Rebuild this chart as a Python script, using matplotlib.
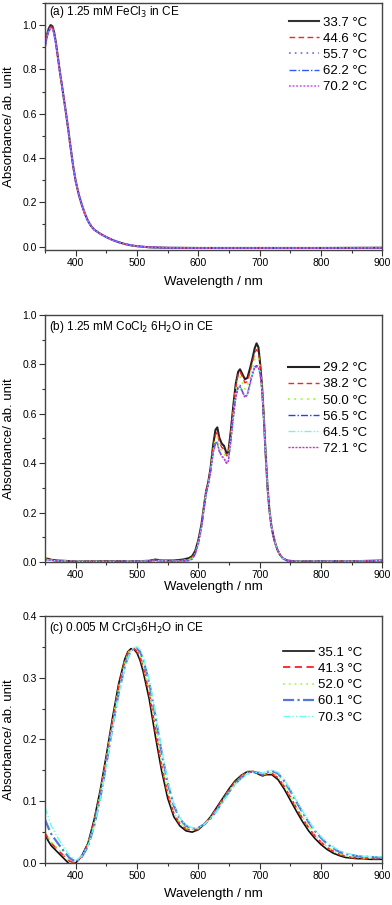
import matplotlib
matplotlib.use("Agg")
import matplotlib.pyplot as plt
from matplotlib.ticker import MultipleLocator

plt.rcParams['font.family'] = ['Liberation Sans', 'DejaVu Sans']

# ---- (a) FeCl3 ----
wl_a = [350, 353, 356, 359, 362, 365, 368, 371, 374, 377, 380, 384, 388, 392, 396,
        400, 405, 410, 415, 420, 425, 430, 440, 450, 460, 470, 480, 490, 500, 520,
        550, 600, 700, 800, 900]
tail_a = [0.68, 0.605, 0.525, 0.44, 0.36, 0.295, 0.235, 0.188, 0.148, 0.116, 0.093, 0.077,
          0.058, 0.043, 0.03, 0.02, 0.012, 0.006, 0.002, -0.003, -0.005, -0.006, -0.006,
          -0.006, -0.005]
fe_337 = [0.91, 0.955, 0.985, 1.0, 0.995, 0.965, 0.915, 0.853, 0.792, 0.737] + tail_a
fe_446 = [0.905, 0.95, 0.978, 0.99, 0.987, 0.96, 0.912, 0.851, 0.791, 0.736] + tail_a
fe_557 = [0.9, 0.945, 0.972, 0.985, 0.982, 0.957, 0.91, 0.85, 0.79, 0.736] + tail_a
fe_622 = [0.9, 0.945, 0.972, 0.984, 0.981, 0.956, 0.91, 0.85, 0.79, 0.736] + tail_a
fe_702 = [0.902, 0.947, 0.974, 0.986, 0.983, 0.957, 0.91, 0.85, 0.79, 0.736] + tail_a
labels_a = ['33.7 °C', '44.6 °C', '55.7 °C', '62.2 °C', '70.2 °C']

# ---- (b) CoCl2 6H2O ----
wl_b = [350, 355, 360, 370, 380, 400, 450, 500, 520, 530, 540, 560, 575, 585, 590,
        595, 600, 605, 610, 613, 616, 620, 624, 628, 631, 634, 638, 642, 646, 649,
        653, 657, 661, 665, 668, 672, 676, 680, 684, 688, 692, 695, 698, 701, 704,
        707, 710, 713, 716, 719, 722, 725, 729, 733, 738, 745, 760, 800, 850, 900]
co_292 = [0.014, 0.013, 0.009, 0.006, 0.005, 0.002, 0.003, 0.003, 0.005, 0.01, 0.006, 0.006, 0.01, 0.016, 0.024,
          0.045, 0.088, 0.15, 0.24, 0.29, 0.32, 0.38, 0.47, 0.535, 0.545, 0.505, 0.48, 0.47, 0.44, 0.445,
          0.53, 0.63, 0.72, 0.77, 0.78, 0.76, 0.74, 0.745, 0.78, 0.82, 0.865, 0.885, 0.87, 0.80, 0.71,
          0.58, 0.43, 0.30, 0.21, 0.15, 0.11, 0.08, 0.05, 0.03, 0.015, 0.006, 0.002, 0.003, 0.003, 0.006]
co_382 = [0.012, 0.011, 0.008, 0.005, 0.004, 0.002, 0.003, 0.003, 0.004, 0.008, 0.005, 0.005, 0.008, 0.012, 0.02,
          0.04, 0.083, 0.146, 0.236, 0.287, 0.317, 0.375, 0.46, 0.515, 0.525, 0.49, 0.465, 0.455, 0.43, 0.435,
          0.515, 0.615, 0.705, 0.76, 0.77, 0.75, 0.725, 0.73, 0.765, 0.805, 0.845, 0.86, 0.85, 0.79, 0.705,
          0.58, 0.43, 0.30, 0.21, 0.15, 0.11, 0.08, 0.05, 0.03, 0.015, 0.006, 0.002, 0.003, 0.003, 0.006]
co_500 = [0.011, 0.01, 0.007, 0.005, 0.004, 0.002, 0.002, 0.003, 0.004, 0.007, 0.005, 0.004, 0.006, 0.009, 0.016,
          0.036, 0.078, 0.142, 0.232, 0.284, 0.314, 0.37, 0.45, 0.495, 0.505, 0.47, 0.45, 0.44, 0.42, 0.425,
          0.50, 0.60, 0.69, 0.745, 0.75, 0.725, 0.70, 0.71, 0.745, 0.785, 0.82, 0.83, 0.825, 0.775, 0.70,
          0.575, 0.43, 0.30, 0.21, 0.15, 0.11, 0.08, 0.05, 0.03, 0.015, 0.006, 0.002, 0.003, 0.003, 0.006]
co_565 = [0.01, 0.009, 0.007, 0.004, 0.003, 0.002, 0.002, 0.003, 0.004, 0.006, 0.004, 0.003, 0.004, 0.006, 0.012,
          0.032, 0.074, 0.138, 0.228, 0.28, 0.31, 0.365, 0.44, 0.48, 0.485, 0.45, 0.43, 0.42, 0.40, 0.41,
          0.49, 0.585, 0.665, 0.71, 0.715, 0.69, 0.67, 0.68, 0.72, 0.76, 0.79, 0.795, 0.79, 0.76, 0.69,
          0.57, 0.425, 0.30, 0.21, 0.15, 0.11, 0.08, 0.05, 0.03, 0.015, 0.006, 0.002, 0.003, 0.003, 0.006]
co_645 = [0.01, 0.009, 0.007, 0.004, 0.003, 0.002, 0.002, 0.003, 0.004, 0.006, 0.004, 0.003, 0.004, 0.006, 0.012,
          0.032, 0.074, 0.138, 0.228, 0.28, 0.31, 0.365, 0.44, 0.478, 0.485, 0.452, 0.43, 0.42, 0.402, 0.41,
          0.49, 0.583, 0.663, 0.705, 0.71, 0.688, 0.668, 0.678, 0.718, 0.758, 0.788, 0.79, 0.787, 0.758, 0.69,
          0.57, 0.425, 0.30, 0.21, 0.15, 0.11, 0.08, 0.05, 0.03, 0.015, 0.006, 0.002, 0.003, 0.003, 0.006]
co_721 = [0.01, 0.009, 0.007, 0.004, 0.003, 0.002, 0.002, 0.003, 0.004, 0.006, 0.004, 0.003, 0.004, 0.006, 0.012,
          0.032, 0.074, 0.138, 0.228, 0.28, 0.31, 0.365, 0.44, 0.478, 0.48, 0.45, 0.428, 0.418, 0.40, 0.408,
          0.488, 0.582, 0.662, 0.706, 0.71, 0.686, 0.666, 0.676, 0.716, 0.756, 0.786, 0.79, 0.786, 0.758, 0.69,
          0.57, 0.425, 0.30, 0.21, 0.15, 0.11, 0.08, 0.05, 0.03, 0.015, 0.006, 0.002, 0.003, 0.003, 0.006]
labels_b = ['29.2 °C', '38.2 °C', '50.0 °C', '56.5 °C', '64.5 °C', '72.1 °C']

# ---- (c) CrCl3 6H2O ----
wl_c = [350, 355, 360, 370, 380, 390, 400, 410, 420, 430, 440, 450, 460, 470, 480,
        485, 490, 495, 500, 505, 510, 520, 530, 540, 550, 560, 570, 580, 590, 600,
        610, 620, 630, 640, 650, 660, 670, 680, 690, 700, 705, 710, 720, 730, 740,
        750, 760, 770, 780, 790, 800, 810, 820, 830, 840, 850, 860, 870, 880, 890, 900]
cr_351 = [0.045, 0.036, 0.028, 0.018, 0.008, -0.002, 0.0, 0.012, 0.032, 0.07, 0.118, 0.175, 0.235, 0.29, 0.33,
          0.342, 0.347, 0.346, 0.34, 0.328, 0.31, 0.265, 0.205, 0.15, 0.105, 0.075, 0.06, 0.052, 0.05, 0.054,
          0.063, 0.075, 0.09, 0.105, 0.12, 0.133, 0.142, 0.148, 0.148, 0.143, 0.141, 0.143, 0.143, 0.135, 0.12,
          0.102, 0.084, 0.067, 0.052, 0.04, 0.03, 0.022, 0.016, 0.012, 0.009, 0.008, 0.007, 0.007, 0.006, 0.006, 0.006]
cr_413 = [0.048, 0.04, 0.032, 0.022, 0.012, 0.003, 0.0, 0.011, 0.03, 0.066, 0.113, 0.17, 0.23, 0.285, 0.327,
          0.34, 0.347, 0.347, 0.343, 0.333, 0.317, 0.274, 0.215, 0.158, 0.112, 0.08, 0.063, 0.055, 0.053, 0.055,
          0.063, 0.074, 0.088, 0.103, 0.118, 0.131, 0.141, 0.147, 0.148, 0.144, 0.142, 0.144, 0.145, 0.138, 0.124,
          0.107, 0.089, 0.072, 0.057, 0.044, 0.034, 0.025, 0.019, 0.014, 0.011, 0.009, 0.008, 0.008, 0.007, 0.007, 0.007]
cr_520 = [0.05, 0.042, 0.034, 0.024, 0.013, 0.004, 0.001, 0.011, 0.03, 0.065, 0.112, 0.168, 0.228, 0.283, 0.325,
          0.339, 0.346, 0.348, 0.345, 0.335, 0.32, 0.278, 0.22, 0.162, 0.115, 0.082, 0.064, 0.056, 0.054, 0.056,
          0.063, 0.073, 0.087, 0.102, 0.117, 0.13, 0.14, 0.147, 0.148, 0.145, 0.143, 0.145, 0.146, 0.14, 0.126,
          0.109, 0.091, 0.074, 0.059, 0.046, 0.035, 0.026, 0.02, 0.015, 0.012, 0.01, 0.009, 0.008, 0.008, 0.008, 0.008]
cr_601 = [0.07, 0.058, 0.047, 0.033, 0.02, 0.008, 0.002, 0.01, 0.027, 0.06, 0.105, 0.16, 0.22, 0.275, 0.318,
          0.333, 0.343, 0.348, 0.348, 0.342, 0.33, 0.292, 0.238, 0.18, 0.13, 0.093, 0.071, 0.06, 0.056, 0.057,
          0.063, 0.072, 0.085, 0.1, 0.115, 0.128, 0.138, 0.145, 0.147, 0.146, 0.144, 0.147, 0.149, 0.145, 0.133,
          0.117, 0.099, 0.082, 0.066, 0.052, 0.041, 0.031, 0.024, 0.018, 0.015, 0.013, 0.011, 0.01, 0.01, 0.009, 0.009]
cr_703 = [0.09, 0.075, 0.06, 0.042, 0.026, 0.012, 0.004, 0.011, 0.027, 0.059, 0.103, 0.158, 0.218, 0.273, 0.316,
          0.332, 0.343, 0.349, 0.35, 0.345, 0.334, 0.297, 0.243, 0.185, 0.134, 0.096, 0.073, 0.061, 0.057, 0.057,
          0.063, 0.072, 0.084, 0.099, 0.114, 0.127, 0.137, 0.144, 0.147, 0.146, 0.145, 0.148, 0.15, 0.147, 0.135,
          0.119, 0.101, 0.084, 0.068, 0.054, 0.043, 0.033, 0.026, 0.02, 0.016, 0.014, 0.012, 0.011, 0.011, 0.01, 0.01]
labels_c = ['35.1 °C', '41.3 °C', '52.0 °C', '60.1 °C', '70.3 °C']


def style_axis(ax, ylim, major, minor, xlab_y):
    ax.set_xlim(350, 900)
    ax.set_ylim(*ylim)
    ax.xaxis.set_major_locator(MultipleLocator(100))
    ax.xaxis.set_minor_locator(MultipleLocator(50))
    ax.yaxis.set_major_locator(MultipleLocator(major))
    ax.yaxis.set_minor_locator(MultipleLocator(minor))
    ax.yaxis.set_major_formatter(plt.FormatStrFormatter('%.1f'))
    ax.tick_params(which='both', direction='out', top=False, right=False,
                   colors='#333333', labelcolor='black', labelsize=7.5, width=0.8, pad=2)
    ax.tick_params(which='major', length=4)
    ax.tick_params(which='minor', length=2.5)
    for s in ax.spines.values():
        s.set_color('#444444')
        s.set_linewidth(1.0)
    ax.set_ylabel('Absorbance/ ab. unit', fontsize=9.5)
    ax.set_xlabel('Wavelength / nm', fontsize=9.5)
    ax.yaxis.set_label_coords(-0.088, 0.5)
    ax.xaxis.set_label_coords(0.5, xlab_y)


fig = plt.figure(figsize=(3.92, 9.05), dpi=100)

# panel (a)
ax1 = fig.add_axes([0.115, 0.7238, 0.86, 0.273])
ax1.plot(wl_a, fe_337, color='#333333', lw=1.5, ls='-', label=labels_a[0])
ax1.plot(wl_a, fe_446, color='#ff2020', lw=1.0, ls=(0, (4, 2.5)), label=labels_a[1])
ax1.plot(wl_a, fe_557, color='#6a6ae0', lw=1.2, ls=(0, (1, 2.5)), label=labels_a[2])
ax1.plot(wl_a, fe_622, color='#2f5cff', lw=1.0, ls=(0, (5, 1.5, 1, 1.5)), label=labels_a[3])
ax1.plot(wl_a, fe_702, color='#cc66ff', lw=1.3, ls=(0, (1, 1)), label=labels_a[4])
style_axis(ax1, (-0.015, 1.1), 0.2, 0.1, -0.105)
ax1.text(0.012, 0.964, '(a) 1.25 mM FeCl$_3$ in CE', transform=ax1.transAxes,
         fontsize=8.5, va='center', ha='left')
ax1.legend(loc='upper right', bbox_to_anchor=(0.955, 0.945), frameon=False,
           fontsize=9.5, handlelength=2.3, handletextpad=0.3, labelspacing=0.3,
           borderaxespad=0, borderpad=0)

# panel (b)
ax2 = fig.add_axes([0.115, 0.379, 0.86, 0.273])
ax2.plot(wl_b, co_292, color='#222222', lw=1.5, ls='-', label=labels_b[0])
ax2.plot(wl_b, co_382, color='#ff2020', lw=1.0, ls=(0, (4, 2.5)), label=labels_b[1])
ax2.plot(wl_b, co_500, color='#99ff33', lw=1.3, ls=(0, (1, 2.5)), label=labels_b[2])
ax2.plot(wl_b, co_565, color='#2a3cff', lw=1.0, ls=(0, (5, 1.5, 1, 1.5)), label=labels_b[3])
ax2.plot(wl_b, co_645, color='#66ffdd', lw=1.0, ls=(0, (5, 1.5, 1, 1.5, 1, 1.5)), label=labels_b[4])
ax2.plot(wl_b, co_721, color='#cc33cc', lw=1.0, ls=(0, (1.5, 1)), label=labels_b[5])
style_axis(ax2, (0, 1.0), 0.2, 0.1, -0.075)
ax2.text(0.012, 0.951, '(b) 1.25 mM CoCl$_2$ 6H$_2$O in CE', transform=ax2.transAxes,
         fontsize=8.5, va='center', ha='left')
ax2.legend(loc='upper right', bbox_to_anchor=(0.955, 0.81), frameon=False,
           fontsize=9.5, handlelength=2.3, handletextpad=0.3, labelspacing=0.3,
           borderaxespad=0, borderpad=0)

# panel (c)
ax3 = fig.add_axes([0.115, 0.0464, 0.86, 0.273])
ax3.plot(wl_c, cr_351, color='#111111', lw=1.2, ls='-', label=labels_c[0])
ax3.plot(wl_c, cr_413, color='#ff2020', lw=1.3, ls=(0, (4, 2.5)), label=labels_c[1])
ax3.plot(wl_c, cr_520, color='#99ff33', lw=1.2, ls=(0, (1, 2.5)), label=labels_c[2])
ax3.plot(wl_c, cr_601, color='#5577dd', lw=1.6, ls=(0, (5, 1.5, 1, 1.5)), label=labels_c[3])
ax3.plot(wl_c, cr_703, color='#66ffee', lw=1.0, ls=(0, (5, 1.5, 1, 1.5, 1, 1.5)), label=labels_c[4])
style_axis(ax3, (0, 0.4), 0.1, 0.05, -0.1)
ax3.text(0.012, 0.951, '(c) 0.005 M CrCl$_3$6H$_2$O in CE', transform=ax3.transAxes,
         fontsize=8.5, va='center', ha='left')
ax3.legend(loc='upper right', bbox_to_anchor=(0.94, 0.876), frameon=False,
           fontsize=9.5, handlelength=2.3, handletextpad=0.3, labelspacing=0.3,
           borderaxespad=0, borderpad=0)

fig.savefig('out.png', dpi=100)
